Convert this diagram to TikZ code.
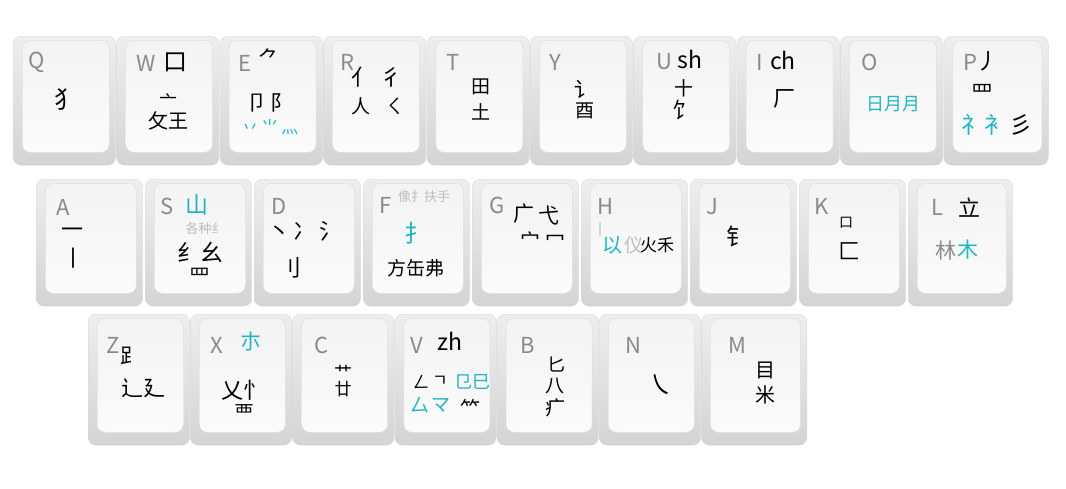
\documentclass[tikz,border=0pt]{standalone}
\usepackage{fontspec}
\setmainfont{Noto Sans CJK SC}
\definecolor{keygrey}{RGB}{138,138,138}
\definecolor{cyanink}{RGB}{30,182,196}
\definecolor{faint}{RGB}{190,190,190}
\definecolor{bodytop}{RGB}{238,238,238}
\definecolor{bodybot}{RGB}{212,212,212}
\definecolor{facetop}{RGB}{243,243,243}
\definecolor{facebot}{RGB}{251,251,251}
\tikzset{
  keybody/.style={rounded corners=8pt, top color=bodytop, bottom color=bodybot, draw=white!85!black, line width=0.4pt, inner sep=0pt, anchor=north west},
  keyface/.style={rounded corners=8pt, top color=facetop, bottom color=facebot, draw=white!88!black, line width=0.5pt, inner sep=0pt, anchor=north west},
  ltr/.style={text=keygrey, font=\fontsize{22}{22}\selectfont, inner sep=0pt},
  lat/.style={text=black, font=\fontsize{23}{23}\selectfont, inner sep=0pt},
  gl/.style={text=black, font=\fontsize{#1}{#1}\selectfont, inner sep=0pt},
  gc/.style={text=cyanink, font=\fontsize{#1}{#1}\selectfont, inner sep=0pt},
  gg/.style={text=faint, font=\fontsize{#1}{#1}\selectfont, inner sep=0pt},
}
\newcommand\kcap[5]{%
  \node[keybody, minimum width=#4pt+15.5pt, minimum height=#5pt+17pt] (#1o) at (#2-9,#3-4) {};
  \node[keyface, minimum width=#4pt, minimum height=#5pt] (#1f) at (#2,#3) {};
}
\begin{document}
\begin{tikzpicture}[x=1pt,y=-1pt]
\fill[white] (0,0) rectangle (1066,488);
\useasboundingbox (0,0) rectangle (1066,488);
% row 1
\kcap{Q}{22}{40}{87}{112}
\kcap{W}{125.4}{40}{87}{112}
\kcap{E}{228.8}{40}{87}{112}
\kcap{R}{332.2}{40}{87}{112}
\kcap{T}{435.6}{40}{87}{112}
\kcap{Y}{539}{40}{87}{112}
\kcap{U}{642.4}{40}{87}{112}
\kcap{I}{745.8}{40}{87}{112}
\kcap{O}{849.2}{40}{87}{112}
\kcap{P}{952.6}{40}{89}{112}
% row 2
\kcap{A}{45}{183}{91}{110}
\kcap{S}{154}{183}{91}{110}
\kcap{D}{263}{183}{91}{110}
\kcap{F}{372}{183}{91}{110}
\kcap{G}{481}{183}{91}{110}
\kcap{H}{590}{183}{91}{110}
\kcap{J}{699}{183}{91}{110}
\kcap{K}{808}{183}{91}{110}
\kcap{L}{917}{183}{89}{110}
% row 3
\kcap{Z}{97}{318}{86}{114}
\kcap{X}{199.2}{318}{86}{114}
\kcap{C}{301.4}{318}{86}{114}
\kcap{V}{403.6}{318}{86}{114}
\kcap{B}{505.8}{318}{86}{114}
\kcap{N}{608}{318}{86}{114}
\kcap{M}{710.2}{318}{90}{114}
% ---- row 1 labels
\node[ltr] (Ql) at (37,62) {Q};
\node[gl=24] (Q1) at (66,100) {犭};
\node[ltr] (Wl) at (146,63) {W};
\node[gl=24] (W1) at (175,62) {口};
\node[gl=18] (W2) at (168,101) {亠};
\node[gl=20] (W3) at (168,121) {攵王};
\node[ltr] (El) at (245,63) {E};
\node[gl=21] (E1) at (269,58) {⺈};
\node[gl=21] (E2) at (269,103) {卩\,阝};
\node[gc=17] (E3) at (270,127) {丷\,⺌\,灬};
\node[ltr] (Rl) at (347,62) {R};
\node[gl=22] (R1) at (362,77) {亻};
\node[gl=22] (R2) at (391,77) {彳};
\node[gl=19] (R3) at (361,106) {人};
\node[gl=19] (R4) at (395,106) {ㄑ};
\node[ltr] (Tl) at (453,62) {T};
\node[gl=19] (T1) at (481,87) {田};
\node[gl=19] (T2) at (481,112) {土};
\node[ltr] (Yl) at (555,62) {Y};
\node[gl=21] (Y1) at (585,89) {讠};
\node[gl=19] (Y2) at (585,111) {酉};
\node[ltr] (Ul) at (664,62) {U};
\node[lat] (U0) at (690,59) {sh};
\node[gl=19] (U1) at (684,88) {十};
\node[gl=22] (U2) at (683,110) {饣};
\node[ltr] (Il) at (760,62) {I};
\node[lat] (I0) at (783,60) {ch};
\node[gl=22] (I1) at (784,99) {厂};
\node[ltr] (Ol) at (870,62) {O};
\node[gc=18] (O1) at (893,104) {日月月};
\node[ltr] (Pl) at (970,62) {P};
\node[gl=22] (P0) at (987,61) {丿};
\node[gl=22] (P1) at (982,93) {罒};
\node[gc=23] (P2) at (984,125) {礻衤};
\node[gl=23] (P3) at (1021,125) {彡};
% ---- row 2 labels
\node[ltr] (Al) at (63,207) {A};
\node[gl=22] (A1) at (72,233) {一};
\node[gl=22] (A2) at (73,258) {丨};
\node[ltr] (Sl) at (167,206) {S};
\node[gc=23] (S0) at (197,205) {山};
\node[gg=13] (S1) at (205,229) {各种纟};
\node[gl=23] (S2) at (200,252) {纟幺};
\node[gl=21] (S3) at (200,276) {罒};
\node[ltr] (Dl) at (279,206) {D};
\node[gl=22] (D1) at (305,231) {丶\,冫\,氵};
\node[gl=23] (D2) at (290,268) {刂};
\node[ltr] (Fl) at (386,205) {F};
\node[gg=13] (F0) at (424,197) {像扌扶手};
\node[gc=24] (F1) at (416,233) {扌};
\node[gl=19] (F2) at (416,268) {方缶弗};
\node[ltr] (Gl) at (497,205) {G};
\node[gl=21] (G1) at (524,214) {广};
\node[gl=21] (G2) at (549,216) {弋};
\node[gl=20] (G3) at (530,240) {宀};
\node[gl=20] (G4) at (555,241) {冖};
\node[ltr] (Hl) at (606,206) {H};
\node[gg=15] (H0) at (600,230) {丨};
\node[gc=20] (H1) at (612,245) {以};
\node[gg=19] (H2) at (634,245) {仪};
\node[gl=17] (H3) at (657,245) {火禾};
\node[ltr] (Jl) at (712,207) {J};
\node[gl=23] (J1) at (738,236) {钅};
\node[ltr] (Kl) at (822,206) {K};
\node[gl=14] (K1) at (846,223) {口};
\node[gl=22] (K2) at (849,251) {匚};
\node[ltr] (Ll) at (937,207) {L};
\node[gl=22] (L1) at (969,208) {立};
\node[gg=21,text=keygrey] (L2) at (946,250) {林};
\node[gc=21] (L3) at (968,250) {木};
% ---- row 3 labels
\node[ltr] (Zl) at (113,345) {Z};
\node[gl=21] (Z1) at (131,356) {⻊};
\node[gl=22] (Z2) at (143,388) {辶廴};
\node[ltr] (Xl) at (217,345) {X};
\node[gc=21] (X0) at (251,342) {朩};
\node[gl=22] (X1) at (243,390) {乂忄};
\node[gl=20] (X2) at (244,413) {覀};
\node[ltr] (Cl) at (322,345) {C};
\node[gl=18] (C1) at (343,372) {艹};
\node[gl=17] (C2) at (343,389) {廿};
\node[ltr] (Vl) at (417,345) {V};
\node[lat] (V0) at (450,341) {zh};
\node[gl=17] (V1) at (421,382) {ㄥ};
\node[gl=17] (V2) at (440,381) {ㄱ};
\node[gc=18] (V3) at (472,382) {㔾巳};
\node[gc=19] (V4) at (420,405) {厶};
\node[gc=19] (V5) at (441,405) {マ};
\node[gl=20] (V6) at (470,408) {⺮};
\node[ltr] (Bl) at (528,345) {B};
\node[gl=18] (B1) at (556,365) {匕};
\node[gl=19] (B2) at (555,386) {八};
\node[gl=20] (B3) at (555,408) {疒};
\node[ltr] (Nl) at (633,345) {N};
\node[gl=26] (N1) at (660,385) {㇏};
\node[ltr] (Ml) at (737,345) {M};
\node[gl=20] (M1) at (765,370) {目};
\node[gl=20] (M2) at (765,395) {米};
\end{tikzpicture}
\end{document}
